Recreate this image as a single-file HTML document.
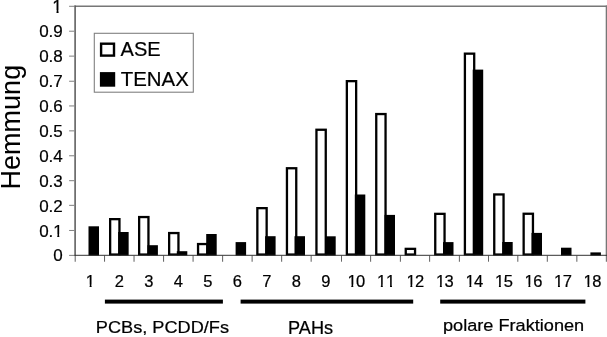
<!DOCTYPE html>
<html lang="de"><head><meta charset="utf-8"><title>Hemmung</title>
<style>
html,body{margin:0;padding:0;background:#fff;}
svg{display:block;}
text{font-family:"Liberation Sans",Arial,Helvetica,sans-serif;fill:#000;stroke:#000;stroke-width:0.22;stroke-linejoin:round;}
</style></head><body>
<svg width="607" height="337" viewBox="0 0 607 337">
<rect x="0" y="0" width="607" height="337" fill="#fff"/>

<line x1="74.4" y1="6.25" x2="607" y2="6.25" stroke="#777" stroke-width="1.3"/>
<line x1="606.35" y1="5.6" x2="606.35" y2="256" stroke="#777" stroke-width="1.3"/>
<line x1="75.1" y1="5.6" x2="75.1" y2="256" stroke="#555" stroke-width="1.5"/>
<line x1="69.1" y1="255.40" x2="74.6" y2="255.40" stroke="#858585" stroke-width="1.05"/>
<line x1="69.1" y1="230.49" x2="74.6" y2="230.49" stroke="#858585" stroke-width="1.05"/>
<line x1="69.1" y1="205.35" x2="74.6" y2="205.35" stroke="#858585" stroke-width="1.05"/>
<line x1="69.1" y1="180.67" x2="74.6" y2="180.67" stroke="#858585" stroke-width="1.05"/>
<line x1="69.1" y1="155.76" x2="74.6" y2="155.76" stroke="#858585" stroke-width="1.05"/>
<line x1="69.1" y1="130.85" x2="74.6" y2="130.85" stroke="#858585" stroke-width="1.05"/>
<line x1="69.1" y1="105.94" x2="74.6" y2="105.94" stroke="#858585" stroke-width="1.05"/>
<line x1="69.1" y1="81.25" x2="74.6" y2="81.25" stroke="#858585" stroke-width="1.05"/>
<line x1="69.1" y1="56.12" x2="74.6" y2="56.12" stroke="#858585" stroke-width="1.05"/>
<line x1="69.1" y1="31.21" x2="74.6" y2="31.21" stroke="#858585" stroke-width="1.05"/>
<line x1="69.1" y1="6.30" x2="74.6" y2="6.30" stroke="#858585" stroke-width="1.05"/>
<line x1="75.20" y1="255.4" x2="75.20" y2="261.7" stroke="#666" stroke-width="1.05"/>
<line x1="104.52" y1="255.4" x2="104.52" y2="261.7" stroke="#666" stroke-width="1.05"/>
<line x1="134.04" y1="255.4" x2="134.04" y2="261.7" stroke="#666" stroke-width="1.05"/>
<line x1="163.56" y1="255.4" x2="163.56" y2="261.7" stroke="#666" stroke-width="1.05"/>
<line x1="193.08" y1="255.4" x2="193.08" y2="261.7" stroke="#666" stroke-width="1.05"/>
<line x1="222.60" y1="255.4" x2="222.60" y2="261.7" stroke="#666" stroke-width="1.05"/>
<line x1="252.12" y1="255.4" x2="252.12" y2="261.7" stroke="#666" stroke-width="1.05"/>
<line x1="281.64" y1="255.4" x2="281.64" y2="261.7" stroke="#666" stroke-width="1.05"/>
<line x1="311.16" y1="255.4" x2="311.16" y2="261.7" stroke="#666" stroke-width="1.05"/>
<line x1="341.50" y1="255.4" x2="341.50" y2="261.7" stroke="#666" stroke-width="1.05"/>
<line x1="370.60" y1="255.4" x2="370.60" y2="261.7" stroke="#666" stroke-width="1.05"/>
<line x1="400.40" y1="255.4" x2="400.40" y2="261.7" stroke="#666" stroke-width="1.05"/>
<line x1="429.60" y1="255.4" x2="429.60" y2="261.7" stroke="#666" stroke-width="1.05"/>
<line x1="459.40" y1="255.4" x2="459.40" y2="261.7" stroke="#666" stroke-width="1.05"/>
<line x1="488.50" y1="255.4" x2="488.50" y2="261.7" stroke="#666" stroke-width="1.05"/>
<line x1="517.80" y1="255.4" x2="517.80" y2="261.7" stroke="#666" stroke-width="1.05"/>
<line x1="547.32" y1="255.4" x2="547.32" y2="261.7" stroke="#666" stroke-width="1.05"/>
<line x1="576.84" y1="255.4" x2="576.84" y2="261.7" stroke="#666" stroke-width="1.05"/>
<line x1="606.36" y1="255.4" x2="606.36" y2="261.7" stroke="#666" stroke-width="1.05"/>
<rect x="88.50" y="226.30" width="10.50" height="29.40" fill="#000"/>
<rect x="110.15" y="219.15" width="9.30" height="35.40" fill="#fff" stroke="#000" stroke-width="2.3"/>
<rect x="118.15" y="232.00" width="10.50" height="23.70" fill="#000"/>
<rect x="139.15" y="217.05" width="9.30" height="37.50" fill="#fff" stroke="#000" stroke-width="2.3"/>
<rect x="147.40" y="245.20" width="10.50" height="10.50" fill="#000"/>
<rect x="169.15" y="233.05" width="9.30" height="21.50" fill="#fff" stroke="#000" stroke-width="2.3"/>
<rect x="176.80" y="251.20" width="10.50" height="4.50" fill="#000"/>
<rect x="198.05" y="244.05" width="9.30" height="10.50" fill="#fff" stroke="#000" stroke-width="2.3"/>
<rect x="206.20" y="234.00" width="10.50" height="21.70" fill="#000"/>
<rect x="235.60" y="242.10" width="10.50" height="13.60" fill="#000"/>
<rect x="257.35" y="208.15" width="9.30" height="46.40" fill="#fff" stroke="#000" stroke-width="2.3"/>
<rect x="265.10" y="236.20" width="10.50" height="19.50" fill="#000"/>
<rect x="286.95" y="168.25" width="9.30" height="86.30" fill="#fff" stroke="#000" stroke-width="2.3"/>
<rect x="294.50" y="236.20" width="10.50" height="19.50" fill="#000"/>
<rect x="316.45" y="129.75" width="9.30" height="124.80" fill="#fff" stroke="#000" stroke-width="2.3"/>
<rect x="325.20" y="236.30" width="10.50" height="19.40" fill="#000"/>
<rect x="346.85" y="81.15" width="9.30" height="173.40" fill="#fff" stroke="#000" stroke-width="2.3"/>
<rect x="354.80" y="194.50" width="10.50" height="61.20" fill="#000"/>
<rect x="376.25" y="114.05" width="9.30" height="140.50" fill="#fff" stroke="#000" stroke-width="2.3"/>
<rect x="384.50" y="214.90" width="10.50" height="40.80" fill="#000"/>
<rect x="405.75" y="248.85" width="9.30" height="5.70" fill="#fff" stroke="#000" stroke-width="2.3"/>
<rect x="435.25" y="213.85" width="9.30" height="40.70" fill="#fff" stroke="#000" stroke-width="2.3"/>
<rect x="443.00" y="242.10" width="10.50" height="13.60" fill="#000"/>
<rect x="464.90" y="53.65" width="9.30" height="200.90" fill="#fff" stroke="#000" stroke-width="2.3"/>
<rect x="472.70" y="69.60" width="10.50" height="186.10" fill="#000"/>
<rect x="494.25" y="194.45" width="9.30" height="60.10" fill="#fff" stroke="#000" stroke-width="2.3"/>
<rect x="502.20" y="242.00" width="10.50" height="13.70" fill="#000"/>
<rect x="523.65" y="213.75" width="9.30" height="40.80" fill="#fff" stroke="#000" stroke-width="2.3"/>
<rect x="531.50" y="232.90" width="10.50" height="22.80" fill="#000"/>
<rect x="561.00" y="247.70" width="10.50" height="8.00" fill="#000"/>
<rect x="590.40" y="252.40" width="10.50" height="3.30" fill="#000"/>
<line x1="74.4" y1="255.3" x2="607" y2="255.3" stroke="#333" stroke-width="1"/>
<text x="53.35" y="261.45" font-size="17.0">0</text>
<text x="39.17 48.62 53.26" y="236.54" font-size="17.0">0.1</text>
<rect x="52.75" y="234.07" width="4.52" height="3.27" fill="#fff"/>
<rect x="59.29" y="234.07" width="4.42" height="3.27" fill="#fff"/>
<text x="39.17 48.62 53.35" y="211.63" font-size="17.0">0.2</text>
<text x="39.17 48.62 53.35" y="186.72" font-size="17.0">0.3</text>
<text x="39.17 48.62 53.35" y="161.81" font-size="17.0">0.4</text>
<text x="39.17 48.62 53.35" y="136.90" font-size="17.0">0.5</text>
<text x="39.17 48.62 53.35" y="111.99" font-size="17.0">0.6</text>
<text x="39.17 48.62 53.35" y="87.08" font-size="17.0">0.7</text>
<text x="39.17 48.62 53.35" y="62.17" font-size="17.0">0.8</text>
<text x="39.17 48.62 53.35" y="37.26" font-size="17.0">0.9</text>
<text x="52.32" y="12.80" font-size="17.7">1</text>
<rect x="51.79" y="10.27" width="4.71" height="3.33" fill="#fff"/>
<rect x="58.58" y="10.27" width="4.60" height="3.33" fill="#fff"/>
<text x="85.73" y="287.00" font-size="16.5">1</text>
<rect x="85.24" y="284.56" width="4.38" height="3.24" fill="#fff"/>
<rect x="91.59" y="284.56" width="4.29" height="3.24" fill="#fff"/>
<text x="114.69" y="287.00" font-size="16.5">2</text>
<text x="144.21" y="287.00" font-size="16.5">3</text>
<text x="173.73" y="287.00" font-size="16.5">4</text>
<text x="203.25" y="287.00" font-size="16.5">5</text>
<text x="232.77" y="287.00" font-size="16.5">6</text>
<text x="262.29" y="287.00" font-size="16.5">7</text>
<text x="291.81" y="287.00" font-size="16.5">8</text>
<text x="321.33" y="287.00" font-size="16.5">9</text>
<text x="347.43 356.04" y="287.00" font-size="16.5">10</text>
<rect x="346.93" y="284.56" width="4.38" height="3.24" fill="#fff"/>
<rect x="353.28" y="284.56" width="3.13" height="3.24" fill="#fff"/>
<text x="376.95 386.12" y="287.00" font-size="16.5">11</text>
<rect x="376.45" y="284.56" width="4.38" height="3.24" fill="#fff"/>
<rect x="382.80" y="284.56" width="3.13" height="3.24" fill="#fff"/>
<rect x="385.63" y="284.56" width="4.38" height="3.24" fill="#fff"/>
<rect x="391.97" y="284.56" width="4.29" height="3.24" fill="#fff"/>
<text x="406.47 415.08" y="287.00" font-size="16.5">12</text>
<rect x="405.97" y="284.56" width="4.38" height="3.24" fill="#fff"/>
<rect x="412.32" y="284.56" width="3.13" height="3.24" fill="#fff"/>
<text x="435.99 444.60" y="287.00" font-size="16.5">13</text>
<rect x="435.49" y="284.56" width="4.38" height="3.24" fill="#fff"/>
<rect x="441.84" y="284.56" width="3.13" height="3.24" fill="#fff"/>
<text x="465.51 474.12" y="287.00" font-size="16.5">14</text>
<rect x="465.01" y="284.56" width="4.38" height="3.24" fill="#fff"/>
<rect x="471.36" y="284.56" width="3.13" height="3.24" fill="#fff"/>
<text x="495.03 503.64" y="287.00" font-size="16.5">15</text>
<rect x="494.53" y="284.56" width="4.38" height="3.24" fill="#fff"/>
<rect x="500.88" y="284.56" width="3.13" height="3.24" fill="#fff"/>
<text x="524.55 533.16" y="287.00" font-size="16.5">16</text>
<rect x="524.05" y="284.56" width="4.38" height="3.24" fill="#fff"/>
<rect x="530.40" y="284.56" width="3.13" height="3.24" fill="#fff"/>
<text x="554.07 562.68" y="287.00" font-size="16.5">17</text>
<rect x="553.57" y="284.56" width="4.38" height="3.24" fill="#fff"/>
<rect x="559.92" y="284.56" width="3.13" height="3.24" fill="#fff"/>
<text x="583.59 592.20" y="287.00" font-size="16.5">18</text>
<rect x="583.09" y="284.56" width="4.38" height="3.24" fill="#fff"/>
<rect x="589.44" y="284.56" width="3.13" height="3.24" fill="#fff"/>
<rect x="104.9" y="299.6" width="118.0" height="4" fill="#000"/>
<rect x="240.6" y="299.6" width="172.6" height="4" fill="#000"/>
<rect x="440.2" y="299.6" width="145.2" height="4" fill="#000"/>
<text x="95.8" y="333.0" font-size="16.6" textLength="133.2" lengthAdjust="spacingAndGlyphs">PCBs, PCDD/Fs</text>
<text x="288.1" y="333.7" font-size="17.5" textLength="45.0" lengthAdjust="spacingAndGlyphs">PAHs</text>
<text x="443" y="330.5" font-size="16.3" textLength="141.2" lengthAdjust="spacingAndGlyphs">polare Fraktionen</text>
<text transform="translate(19.9,189.4) rotate(-90)" font-size="27" x="0" y="0" style="stroke-width:0">Hemmung</text>
<rect x="94.3" y="33.3" width="99" height="58.9" fill="#fff" stroke="#808080" stroke-width="1.1"/>
<rect x="101.1" y="43.7" width="12.9" height="11.9" fill="#fff" stroke="#000" stroke-width="2.4"/>
<rect x="99.9" y="72.1" width="15.3" height="14.6" fill="#000"/>
<text x="120.6" y="56" font-size="20">ASE</text>
<text x="120.8" y="86" font-size="20" textLength="68" lengthAdjust="spacingAndGlyphs">TENAX</text>
</svg>
</body></html>
